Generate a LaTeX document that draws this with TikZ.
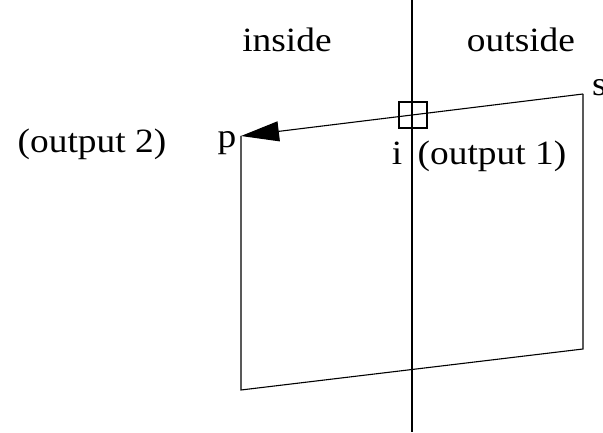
\documentclass[tikz,border=0pt]{standalone}
\usepackage{fontspec}
\setmainfont{Liberation Serif}
\usetikzlibrary{arrows.meta}
\newcommand{\wide}[1]{\scalebox{1.1}[1]{#1}}
\begin{document}
\begin{tikzpicture}[x=1pt,y=-1pt,
  lbl/.style={inner sep=0pt,anchor=base,font=\fontsize{34}{38}\selectfont},
  ln/.style={line width=1.1pt}]
\useasboundingbox (0,0) rectangle (603,433);
% corner coordinates
\coordinate (s) at (583,94);
\coordinate (p) at (241,136);
\coordinate (bl) at (241,390);
\coordinate (br) at (583,349);
\coordinate (vtop) at (412,0);
\coordinate (vbot) at (412,432);
% vertical boundary
\draw[ln] (vtop) -- (vbot);
% polygon
\draw[ln] (p) -- (bl) -- (br) -- (s);
\draw[ln,-{Triangle[length=38pt,width=20pt]}] (s) -- (p);
% intersection box
\node[draw,ln,minimum width=28pt,minimum height=26pt,inner sep=0pt] (ibox) at (413,115) {};
% labels
\node[lbl] (inside) at (287,52) {\wide{inside}};
\node[lbl] (outside) at (521,52) {\wide{outside}};
\node[lbl,anchor=base west] (slbl) at (592,96) {\wide{s}};
\node[lbl] (plbl) at (227,148) {\wide{p}};
\node[lbl] (out2) at (92,153) {\wide{(output 2)}};
\node[lbl] (ilbl) at (397,165) {\wide{i}};
\node[lbl] (out1) at (492,165) {\wide{(output 1)}};
\end{tikzpicture}
\end{document}
